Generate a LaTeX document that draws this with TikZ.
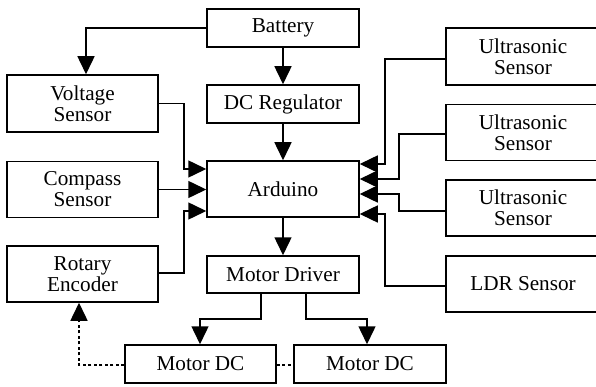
\documentclass[tikz,border=0pt]{standalone}
\usepackage{fontspec}
\setmainfont{Liberation Serif}
\usetikzlibrary{arrows.meta}
\begin{document}
\begin{tikzpicture}[x=1pt,y=-1pt,
  box/.style={draw, line width=1.5pt, inner sep=0pt, align=center,
    font=\fontsize{21.2}{21}\selectfont},
  conn/.style={line width=1.5pt, -{Triangle[length=18pt,width=17pt]}},
  dconn/.style={line width=1.5pt, dash pattern=on 3pt off 2.5pt}]
\useasboundingbox (0,0) rectangle (596,387);
\begin{scope}
\clip (0,0) rectangle (596,387);
\node[box, minimum width=152pt, minimum height=38pt] (battery) at (283,28) {Battery};
\node[box, minimum width=152pt, minimum height=38pt] (dcreg) at (283,104) {DC Regulator};
\node[box, minimum width=152pt, minimum height=56pt] (arduino) at (283,189) {Arduino};
\node[box, minimum width=152pt, minimum height=37pt] (mdriver) at (283,274.5) {Motor Driver};
\node[box, minimum width=151pt, minimum height=57pt] (voltage) at (82.5,103.5) {Voltage\\Sensor};
\node[box, minimum width=151pt, minimum height=56pt] (compass) at (82.5,189.5) {Compass\\Sensor};
\node[box, minimum width=151pt, minimum height=56pt] (rotary) at (82.5,274) {Rotary\\Encoder};
\node[box, minimum width=151pt, minimum height=38pt] (motorA) at (200.5,364) {Motor DC};
\node[box, minimum width=152pt, minimum height=38pt] (motorB) at (370,364) {Motor DC};
\node[box, minimum width=154pt, minimum height=57pt] (usA) at (523,56.5) {Ultrasonic\\Sensor};
\node[box, minimum width=154pt, minimum height=56pt] (usB) at (523,132.5) {Ultrasonic\\Sensor};
\node[box, minimum width=154pt, minimum height=56pt] (usC) at (523,208) {Ultrasonic\\Sensor};
\node[box, minimum width=154pt, minimum height=56pt] (ldr) at (523,284) {LDR Sensor};
\end{scope}
% top chain
\draw[conn] (battery.west) -| ([xshift=3.5pt]voltage.north);
\draw[conn] (battery.south) -- (dcreg.north);
\draw[conn] (dcreg.south) -- (arduino.north);
\draw[conn] (arduino.south) -- (mdriver.north);
% left inputs
\draw[conn] (voltage.east) -| (184,169) -- ([yshift=20pt]arduino.west);
\draw[conn] (compass.east) -- (arduino.west |- compass.east);
\draw[conn] ([yshift=1pt]rotary.east) -| (184,211) -- ([yshift=-22pt]arduino.west);
% right inputs
\draw[conn] ([yshift=-2.5pt]usA.west) -| (385,164) -- ([yshift=25pt]arduino.east);
\draw[conn] ([yshift=-1.5pt]usB.west) -| (399,179) -- ([yshift=10pt]arduino.east);
\draw[conn] ([yshift=-3pt]usC.west) -| (399,194) -- ([yshift=-5pt]arduino.east);
\draw[conn] ([yshift=-2pt]ldr.west) -| (385,214) -- ([yshift=-25pt]arduino.east);
% motor driver outputs
\draw[conn] ([xshift=-22pt]mdriver.south) |- (200,319) -- ([xshift=-0.5pt]motorA.north);
\draw[conn] ([xshift=23pt]mdriver.south) |- (367,319) -- ([xshift=-3pt]motorB.north);
% dashed feedback
\draw[dconn, -{Triangle[length=18pt,width=17pt]}] ([yshift=-1pt]motorA.west) -| ([xshift=-3.5pt]rotary.south);
\draw[dconn] ([yshift=-1pt]motorA.east) -- ([yshift=-1pt]motorB.west);
\end{tikzpicture}
\end{document}
